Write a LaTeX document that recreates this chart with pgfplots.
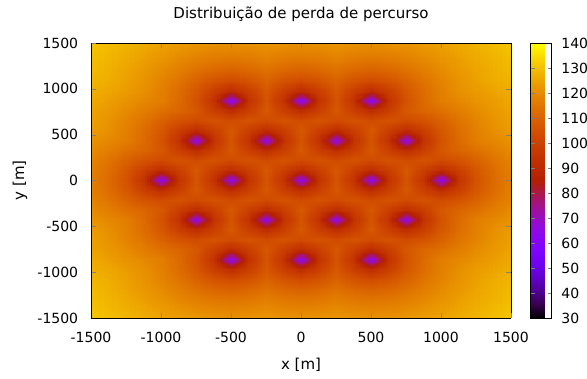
\documentclass[border=0pt]{standalone}
\usepackage{fontspec}
\setmainfont{DejaVu Sans}
\usepackage{pgfplots}
\pgfplotsset{compat=1.18}
\usepgfplotslibrary{patchplots}
\pgfplotsset{colormap={gp}{rgb=(0,0,0) rgb=(0.2236,0.0001,0.309) rgb=(0.3162,0.001,0.5878) rgb=(0.3873,0.0034,0.809) rgb=(0.4472,0.008,0.9511) rgb=(0.5,0.0156,1) rgb=(0.5477,0.027,0.9511) rgb=(0.5916,0.0429,0.809) rgb=(0.6325,0.064,0.5878) rgb=(0.6708,0.0911,0.309) rgb=(0.7071,0.125,0) rgb=(0.7416,0.1664,0) rgb=(0.7746,0.216,0) rgb=(0.8062,0.2746,0) rgb=(0.8367,0.343,0) rgb=(0.866,0.4219,0) rgb=(0.8944,0.512,0) rgb=(0.922,0.6141,0) rgb=(0.9487,0.729,0) rgb=(0.9747,0.8574,0) rgb=(1,1,0)}}
\begin{document}
\fontsize{14}{17}\selectfont
\begin{tikzpicture}[font=\fontsize{14}{17}\selectfont]
\useasboundingbox (-91pt,-61pt) rectangle (496pt,318pt);
\begin{axis}[
  view={0}{90},
  scale only axis, width=420pt, height=275pt,
  xmin=-1500, xmax=1500, ymin=-1500, ymax=1500,
  enlargelimits=false,
  axis on top,
  xtick={-1500,-1000,...,1500}, ytick={-1500,-1000,...,1500},
  tick align=inside, major tick length=5pt,
  /pgf/number format/assume math mode=true,
  /pgf/number format/set thousands separator={},
  scaled ticks=false,
  xticklabel style={yshift=-9pt},
  yticklabel style={xshift=-8pt},
  title={Distribuição de perda de percurso},
  title style={at={(axis description cs:0.5,1.083)}, anchor=center, font=\fontsize{15}{18}\selectfont},
  xlabel={x [m]},
  xlabel style={at={(axis description cs:0.5,-0.171)}, anchor=center, font=\fontsize{15}{18}\selectfont},
  ylabel={y [m]},
  ylabel style={at={(axis description cs:-0.169,0.5)}, anchor=center, font=\fontsize{15}{18}\selectfont},
  colormap name=gp,
  point meta min=30, point meta max=140,
  colorbar,
  colorbar style={
    width=21pt,
    at={(parent axis.north east)}, anchor=north west, xshift=11pt,
    ytick={30,40,...,140},
    ytick pos=both, yticklabel pos=right,
    tick align=inside, major tick length=4pt,
    yticklabel style={xshift=5pt},
    /pgf/number format/assume math mode=true,
  },
]
\addplot3[patch, patch type=bilinear, mesh input=lattice, mesh/cols=25, shader=interp] coordinates {
(-1500,-1500,130.9) (-1375,-1500,129.4) (-1250,-1500,127.8) (-1125,-1500,126.2) (-1000,-1500,124.6) (-875,-1500,123.1) (-750,-1500,121.8) (-625,-1500,121) (-500,-1500,120.7) (-375,-1500,121) (-250,-1500,121.8) (-125,-1500,121) (0,-1500,120.7) (125,-1500,121) (250,-1500,121.8) (375,-1500,121) (500,-1500,120.7) (625,-1500,121) (750,-1500,121.8) (875,-1500,123.1) (1000,-1500,124.6) (1125,-1500,126.2) (1250,-1500,127.8) (1375,-1500,129.4) (1500,-1500,130.9)
(-1500,-1407.25,130.2) (-1375,-1407.25,128.6) (-1250,-1407.25,126.8) (-1125,-1407.25,125) (-1000,-1407.25,123.1) (-875,-1407.25,121.3) (-750,-1407.25,119.7) (-625,-1407.25,118.5) (-500,-1407.25,118.1) (-375,-1407.25,118.5) (-250,-1407.25,119.7) (-125,-1407.25,118.5) (0,-1407.25,118.1) (125,-1407.25,118.5) (250,-1407.25,119.7) (375,-1407.25,118.5) (500,-1407.25,118.1) (625,-1407.25,118.5) (750,-1407.25,119.7) (875,-1407.25,121.3) (1000,-1407.25,123.1) (1125,-1407.25,125) (1250,-1407.25,126.8) (1375,-1407.25,128.6) (1500,-1407.25,130.2)
(-1500,-1299,129.5) (-1375,-1299,127.7) (-1250,-1299,125.8) (-1125,-1299,123.6) (-1000,-1299,121.4) (-875,-1299,119) (-750,-1299,116.8) (-625,-1299,115.1) (-500,-1299,114.4) (-375,-1299,115.1) (-250,-1299,116.8) (-125,-1299,115.1) (0,-1299,114.4) (125,-1299,115.1) (250,-1299,116.8) (375,-1299,115.1) (500,-1299,114.4) (625,-1299,115.1) (750,-1299,116.8) (875,-1299,119) (1000,-1299,121.4) (1125,-1299,123.6) (1250,-1299,125.8) (1375,-1299,127.7) (1500,-1299,129.5)
(-1500,-1190.75,128.9) (-1375,-1190.75,127) (-1250,-1190.75,124.8) (-1125,-1190.75,122.4) (-1000,-1190.75,119.7) (-875,-1190.75,116.7) (-750,-1190.75,113.5) (-625,-1190.75,110.9) (-500,-1190.75,109.7) (-375,-1190.75,110.9) (-250,-1190.75,113.5) (-125,-1190.75,110.9) (0,-1190.75,109.7) (125,-1190.75,110.9) (250,-1190.75,113.5) (375,-1190.75,110.9) (500,-1190.75,109.7) (625,-1190.75,110.9) (750,-1190.75,113.5) (875,-1190.75,116.7) (1000,-1190.75,119.7) (1125,-1190.75,122.4) (1250,-1190.75,124.8) (1375,-1190.75,127) (1500,-1190.75,128.9)
(-1500,-1082.5,128) (-1375,-1082.5,126.4) (-1250,-1082.5,124.1) (-1125,-1082.5,121.4) (-1000,-1082.5,118.2) (-875,-1082.5,114.4) (-750,-1082.5,110) (-625,-1082.5,105.5) (-500,-1082.5,103.1) (-375,-1082.5,105.5) (-250,-1082.5,110) (-125,-1082.5,105.5) (0,-1082.5,103.1) (125,-1082.5,105.5) (250,-1082.5,110) (375,-1082.5,105.5) (500,-1082.5,103.1) (625,-1082.5,105.5) (750,-1082.5,110) (875,-1082.5,114.4) (1000,-1082.5,118.2) (1125,-1082.5,121.4) (1250,-1082.5,124.1) (1375,-1082.5,126.4) (1500,-1082.5,128)
(-1500,-974.25,126.8) (-1375,-974.25,125) (-1250,-974.25,123.1) (-1125,-974.25,120.7) (-1000,-974.25,117.2) (-875,-974.25,112.7) (-750,-974.25,106.9) (-625,-974.25,98.7) (-500,-974.25,91.8) (-375,-974.25,98.7) (-250,-974.25,106.9) (-125,-974.25,98.7) (0,-974.25,91.8) (125,-974.25,98.7) (250,-974.25,106.9) (375,-974.25,98.7) (500,-974.25,91.8) (625,-974.25,98.7) (750,-974.25,106.9) (875,-974.25,112.7) (1000,-974.25,117.2) (1125,-974.25,120.7) (1250,-974.25,123.1) (1375,-974.25,125) (1500,-974.25,126.8)
(-1500,-866,125.8) (-1375,-866,123.6) (-1250,-866,121.4) (-1125,-866,119) (-1000,-866,116.8) (-875,-866,112.1) (-750,-866,105.5) (-625,-866,94.1) (-500,-866,65) (-375,-866,94.1) (-250,-866,105.5) (-125,-866,94.1) (0,-866,65) (125,-866,94.1) (250,-866,105.5) (375,-866,94.1) (500,-866,65) (625,-866,94.1) (750,-866,105.5) (875,-866,112.1) (1000,-866,116.8) (1125,-866,119) (1250,-866,121.4) (1375,-866,123.6) (1500,-866,125.8)
(-1500,-757.75,124.8) (-1375,-757.75,122.4) (-1250,-757.75,119.7) (-1125,-757.75,116.7) (-1000,-757.75,113.5) (-875,-757.75,110.9) (-750,-757.75,106.9) (-625,-757.75,98.7) (-500,-757.75,91.8) (-375,-757.75,98.7) (-250,-757.75,106.9) (-125,-757.75,98.7) (0,-757.75,91.8) (125,-757.75,98.7) (250,-757.75,106.9) (375,-757.75,98.7) (500,-757.75,91.8) (625,-757.75,98.7) (750,-757.75,106.9) (875,-757.75,110.9) (1000,-757.75,113.5) (1125,-757.75,116.7) (1250,-757.75,119.7) (1375,-757.75,122.4) (1500,-757.75,124.8)
(-1500,-649.5,124.1) (-1375,-649.5,121.4) (-1250,-649.5,118.2) (-1125,-649.5,114.4) (-1000,-649.5,110) (-875,-649.5,105.5) (-750,-649.5,103.1) (-625,-649.5,105.5) (-500,-649.5,103.1) (-375,-649.5,105.5) (-250,-649.5,103.1) (-125,-649.5,105.5) (0,-649.5,103.1) (125,-649.5,105.5) (250,-649.5,103.1) (375,-649.5,105.5) (500,-649.5,103.1) (625,-649.5,105.5) (750,-649.5,103.1) (875,-649.5,105.5) (1000,-649.5,110) (1125,-649.5,114.4) (1250,-649.5,118.2) (1375,-649.5,121.4) (1500,-649.5,124.1)
(-1500,-541.25,123.1) (-1375,-541.25,120.7) (-1250,-541.25,117.2) (-1125,-541.25,112.7) (-1000,-541.25,106.9) (-875,-541.25,98.7) (-750,-541.25,91.8) (-625,-541.25,98.7) (-500,-541.25,106.9) (-375,-541.25,98.7) (-250,-541.25,91.8) (-125,-541.25,98.7) (0,-541.25,106.9) (125,-541.25,98.7) (250,-541.25,91.8) (375,-541.25,98.7) (500,-541.25,106.9) (625,-541.25,98.7) (750,-541.25,91.8) (875,-541.25,98.7) (1000,-541.25,106.9) (1125,-541.25,112.7) (1250,-541.25,117.2) (1375,-541.25,120.7) (1500,-541.25,123.1)
(-1500,-433,121.4) (-1375,-433,119) (-1250,-433,116.8) (-1125,-433,112.1) (-1000,-433,105.5) (-875,-433,94.1) (-750,-433,65) (-625,-433,94.1) (-500,-433,105.5) (-375,-433,94.1) (-250,-433,65) (-125,-433,94.1) (0,-433,105.5) (125,-433,94.1) (250,-433,65) (375,-433,94.1) (500,-433,105.5) (625,-433,94.1) (750,-433,65) (875,-433,94.1) (1000,-433,105.5) (1125,-433,112.1) (1250,-433,116.8) (1375,-433,119) (1500,-433,121.4)
(-1500,-324.75,119.7) (-1375,-324.75,116.7) (-1250,-324.75,113.5) (-1125,-324.75,110.9) (-1000,-324.75,106.9) (-875,-324.75,98.7) (-750,-324.75,91.8) (-625,-324.75,98.7) (-500,-324.75,106.9) (-375,-324.75,98.7) (-250,-324.75,91.8) (-125,-324.75,98.7) (0,-324.75,106.9) (125,-324.75,98.7) (250,-324.75,91.8) (375,-324.75,98.7) (500,-324.75,106.9) (625,-324.75,98.7) (750,-324.75,91.8) (875,-324.75,98.7) (1000,-324.75,106.9) (1125,-324.75,110.9) (1250,-324.75,113.5) (1375,-324.75,116.7) (1500,-324.75,119.7)
(-1500,-216.5,118.2) (-1375,-216.5,114.4) (-1250,-216.5,110) (-1125,-216.5,105.5) (-1000,-216.5,103.1) (-875,-216.5,105.5) (-750,-216.5,103.1) (-625,-216.5,105.5) (-500,-216.5,103.1) (-375,-216.5,105.5) (-250,-216.5,103.1) (-125,-216.5,105.5) (0,-216.5,103.1) (125,-216.5,105.5) (250,-216.5,103.1) (375,-216.5,105.5) (500,-216.5,103.1) (625,-216.5,105.5) (750,-216.5,103.1) (875,-216.5,105.5) (1000,-216.5,103.1) (1125,-216.5,105.5) (1250,-216.5,110) (1375,-216.5,114.4) (1500,-216.5,118.2)
(-1500,-108.25,117.2) (-1375,-108.25,112.7) (-1250,-108.25,106.9) (-1125,-108.25,98.7) (-1000,-108.25,91.8) (-875,-108.25,98.7) (-750,-108.25,106.9) (-625,-108.25,98.7) (-500,-108.25,91.8) (-375,-108.25,98.7) (-250,-108.25,106.9) (-125,-108.25,98.7) (0,-108.25,91.8) (125,-108.25,98.7) (250,-108.25,106.9) (375,-108.25,98.7) (500,-108.25,91.8) (625,-108.25,98.7) (750,-108.25,106.9) (875,-108.25,98.7) (1000,-108.25,91.8) (1125,-108.25,98.7) (1250,-108.25,106.9) (1375,-108.25,112.7) (1500,-108.25,117.2)
(-1500,0,116.8) (-1375,0,112.1) (-1250,0,105.5) (-1125,0,94.1) (-1000,0,65) (-875,0,94.1) (-750,0,105.5) (-625,0,94.1) (-500,0,65) (-375,0,94.1) (-250,0,105.5) (-125,0,94.1) (0,0,65) (125,0,94.1) (250,0,105.5) (375,0,94.1) (500,0,65) (625,0,94.1) (750,0,105.5) (875,0,94.1) (1000,0,65) (1125,0,94.1) (1250,0,105.5) (1375,0,112.1) (1500,0,116.8)
(-1500,108.25,117.2) (-1375,108.25,112.7) (-1250,108.25,106.9) (-1125,108.25,98.7) (-1000,108.25,91.8) (-875,108.25,98.7) (-750,108.25,106.9) (-625,108.25,98.7) (-500,108.25,91.8) (-375,108.25,98.7) (-250,108.25,106.9) (-125,108.25,98.7) (0,108.25,91.8) (125,108.25,98.7) (250,108.25,106.9) (375,108.25,98.7) (500,108.25,91.8) (625,108.25,98.7) (750,108.25,106.9) (875,108.25,98.7) (1000,108.25,91.8) (1125,108.25,98.7) (1250,108.25,106.9) (1375,108.25,112.7) (1500,108.25,117.2)
(-1500,216.5,118.2) (-1375,216.5,114.4) (-1250,216.5,110) (-1125,216.5,105.5) (-1000,216.5,103.1) (-875,216.5,105.5) (-750,216.5,103.1) (-625,216.5,105.5) (-500,216.5,103.1) (-375,216.5,105.5) (-250,216.5,103.1) (-125,216.5,105.5) (0,216.5,103.1) (125,216.5,105.5) (250,216.5,103.1) (375,216.5,105.5) (500,216.5,103.1) (625,216.5,105.5) (750,216.5,103.1) (875,216.5,105.5) (1000,216.5,103.1) (1125,216.5,105.5) (1250,216.5,110) (1375,216.5,114.4) (1500,216.5,118.2)
(-1500,324.75,119.7) (-1375,324.75,116.7) (-1250,324.75,113.5) (-1125,324.75,110.9) (-1000,324.75,106.9) (-875,324.75,98.7) (-750,324.75,91.8) (-625,324.75,98.7) (-500,324.75,106.9) (-375,324.75,98.7) (-250,324.75,91.8) (-125,324.75,98.7) (0,324.75,106.9) (125,324.75,98.7) (250,324.75,91.8) (375,324.75,98.7) (500,324.75,106.9) (625,324.75,98.7) (750,324.75,91.8) (875,324.75,98.7) (1000,324.75,106.9) (1125,324.75,110.9) (1250,324.75,113.5) (1375,324.75,116.7) (1500,324.75,119.7)
(-1500,433,121.4) (-1375,433,119) (-1250,433,116.8) (-1125,433,112.1) (-1000,433,105.5) (-875,433,94.1) (-750,433,65) (-625,433,94.1) (-500,433,105.5) (-375,433,94.1) (-250,433,65) (-125,433,94.1) (0,433,105.5) (125,433,94.1) (250,433,65) (375,433,94.1) (500,433,105.5) (625,433,94.1) (750,433,65) (875,433,94.1) (1000,433,105.5) (1125,433,112.1) (1250,433,116.8) (1375,433,119) (1500,433,121.4)
(-1500,541.25,123.1) (-1375,541.25,120.7) (-1250,541.25,117.2) (-1125,541.25,112.7) (-1000,541.25,106.9) (-875,541.25,98.7) (-750,541.25,91.8) (-625,541.25,98.7) (-500,541.25,106.9) (-375,541.25,98.7) (-250,541.25,91.8) (-125,541.25,98.7) (0,541.25,106.9) (125,541.25,98.7) (250,541.25,91.8) (375,541.25,98.7) (500,541.25,106.9) (625,541.25,98.7) (750,541.25,91.8) (875,541.25,98.7) (1000,541.25,106.9) (1125,541.25,112.7) (1250,541.25,117.2) (1375,541.25,120.7) (1500,541.25,123.1)
(-1500,649.5,124.1) (-1375,649.5,121.4) (-1250,649.5,118.2) (-1125,649.5,114.4) (-1000,649.5,110) (-875,649.5,105.5) (-750,649.5,103.1) (-625,649.5,105.5) (-500,649.5,103.1) (-375,649.5,105.5) (-250,649.5,103.1) (-125,649.5,105.5) (0,649.5,103.1) (125,649.5,105.5) (250,649.5,103.1) (375,649.5,105.5) (500,649.5,103.1) (625,649.5,105.5) (750,649.5,103.1) (875,649.5,105.5) (1000,649.5,110) (1125,649.5,114.4) (1250,649.5,118.2) (1375,649.5,121.4) (1500,649.5,124.1)
(-1500,757.75,124.8) (-1375,757.75,122.4) (-1250,757.75,119.7) (-1125,757.75,116.7) (-1000,757.75,113.5) (-875,757.75,110.9) (-750,757.75,106.9) (-625,757.75,98.7) (-500,757.75,91.8) (-375,757.75,98.7) (-250,757.75,106.9) (-125,757.75,98.7) (0,757.75,91.8) (125,757.75,98.7) (250,757.75,106.9) (375,757.75,98.7) (500,757.75,91.8) (625,757.75,98.7) (750,757.75,106.9) (875,757.75,110.9) (1000,757.75,113.5) (1125,757.75,116.7) (1250,757.75,119.7) (1375,757.75,122.4) (1500,757.75,124.8)
(-1500,866,125.8) (-1375,866,123.6) (-1250,866,121.4) (-1125,866,119) (-1000,866,116.8) (-875,866,112.1) (-750,866,105.5) (-625,866,94.1) (-500,866,65) (-375,866,94.1) (-250,866,105.5) (-125,866,94.1) (0,866,65) (125,866,94.1) (250,866,105.5) (375,866,94.1) (500,866,65) (625,866,94.1) (750,866,105.5) (875,866,112.1) (1000,866,116.8) (1125,866,119) (1250,866,121.4) (1375,866,123.6) (1500,866,125.8)
(-1500,974.25,126.8) (-1375,974.25,125) (-1250,974.25,123.1) (-1125,974.25,120.7) (-1000,974.25,117.2) (-875,974.25,112.7) (-750,974.25,106.9) (-625,974.25,98.7) (-500,974.25,91.8) (-375,974.25,98.7) (-250,974.25,106.9) (-125,974.25,98.7) (0,974.25,91.8) (125,974.25,98.7) (250,974.25,106.9) (375,974.25,98.7) (500,974.25,91.8) (625,974.25,98.7) (750,974.25,106.9) (875,974.25,112.7) (1000,974.25,117.2) (1125,974.25,120.7) (1250,974.25,123.1) (1375,974.25,125) (1500,974.25,126.8)
(-1500,1082.5,128) (-1375,1082.5,126.4) (-1250,1082.5,124.1) (-1125,1082.5,121.4) (-1000,1082.5,118.2) (-875,1082.5,114.4) (-750,1082.5,110) (-625,1082.5,105.5) (-500,1082.5,103.1) (-375,1082.5,105.5) (-250,1082.5,110) (-125,1082.5,105.5) (0,1082.5,103.1) (125,1082.5,105.5) (250,1082.5,110) (375,1082.5,105.5) (500,1082.5,103.1) (625,1082.5,105.5) (750,1082.5,110) (875,1082.5,114.4) (1000,1082.5,118.2) (1125,1082.5,121.4) (1250,1082.5,124.1) (1375,1082.5,126.4) (1500,1082.5,128)
(-1500,1190.75,128.9) (-1375,1190.75,127) (-1250,1190.75,124.8) (-1125,1190.75,122.4) (-1000,1190.75,119.7) (-875,1190.75,116.7) (-750,1190.75,113.5) (-625,1190.75,110.9) (-500,1190.75,109.7) (-375,1190.75,110.9) (-250,1190.75,113.5) (-125,1190.75,110.9) (0,1190.75,109.7) (125,1190.75,110.9) (250,1190.75,113.5) (375,1190.75,110.9) (500,1190.75,109.7) (625,1190.75,110.9) (750,1190.75,113.5) (875,1190.75,116.7) (1000,1190.75,119.7) (1125,1190.75,122.4) (1250,1190.75,124.8) (1375,1190.75,127) (1500,1190.75,128.9)
(-1500,1299,129.5) (-1375,1299,127.7) (-1250,1299,125.8) (-1125,1299,123.6) (-1000,1299,121.4) (-875,1299,119) (-750,1299,116.8) (-625,1299,115.1) (-500,1299,114.4) (-375,1299,115.1) (-250,1299,116.8) (-125,1299,115.1) (0,1299,114.4) (125,1299,115.1) (250,1299,116.8) (375,1299,115.1) (500,1299,114.4) (625,1299,115.1) (750,1299,116.8) (875,1299,119) (1000,1299,121.4) (1125,1299,123.6) (1250,1299,125.8) (1375,1299,127.7) (1500,1299,129.5)
(-1500,1407.25,130.2) (-1375,1407.25,128.6) (-1250,1407.25,126.8) (-1125,1407.25,125) (-1000,1407.25,123.1) (-875,1407.25,121.3) (-750,1407.25,119.7) (-625,1407.25,118.5) (-500,1407.25,118.1) (-375,1407.25,118.5) (-250,1407.25,119.7) (-125,1407.25,118.5) (0,1407.25,118.1) (125,1407.25,118.5) (250,1407.25,119.7) (375,1407.25,118.5) (500,1407.25,118.1) (625,1407.25,118.5) (750,1407.25,119.7) (875,1407.25,121.3) (1000,1407.25,123.1) (1125,1407.25,125) (1250,1407.25,126.8) (1375,1407.25,128.6) (1500,1407.25,130.2)
(-1500,1500,130.9) (-1375,1500,129.4) (-1250,1500,127.8) (-1125,1500,126.2) (-1000,1500,124.6) (-875,1500,123.1) (-750,1500,121.8) (-625,1500,121) (-500,1500,120.7) (-375,1500,121) (-250,1500,121.8) (-125,1500,121) (0,1500,120.7) (125,1500,121) (250,1500,121.8) (375,1500,121) (500,1500,120.7) (625,1500,121) (750,1500,121.8) (875,1500,123.1) (1000,1500,124.6) (1125,1500,126.2) (1250,1500,127.8) (1375,1500,129.4) (1500,1500,130.9)
};
\end{axis}
\end{tikzpicture}
\end{document}
